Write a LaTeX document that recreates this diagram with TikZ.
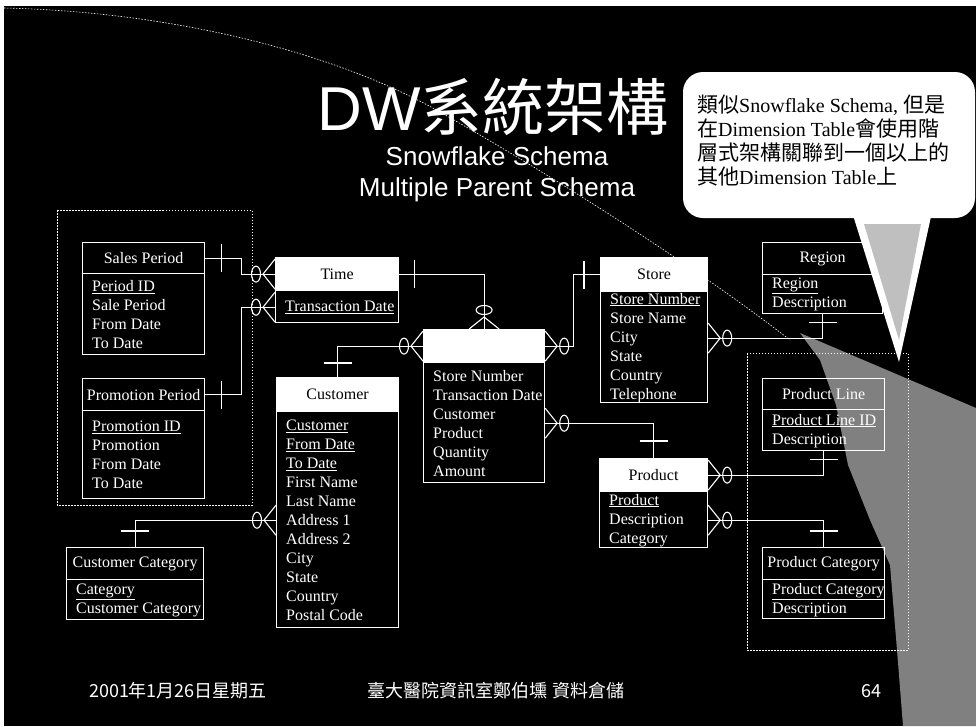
\documentclass[tikz,border=0pt]{standalone}
\usepackage{fontspec}
\setmainfont{Liberation Serif}
\newfontfamily\cjk{Noto Sans CJK TC}
\newfontfamily\arsans{Liberation Sans}
\usetikzlibrary{calc}
\tikzset{
  conn/.style={draw=white, line width=1.1pt},
  entbox/.style={draw=white, line width=1.2pt, inner sep=0pt},
  hw/.style={draw=white, fill=white, text=black, line width=1.2pt, inner sep=0pt, font=\fontsize{16}{19}\selectfont},
  hb/.style={draw=white, text=white, line width=1.2pt, inner sep=0pt, font=\fontsize{16}{19}\selectfont},
  bodytxt/.style={text=white, align=left, inner sep=0pt, font=\fontsize{16}{19}\selectfont},
  grp/.style={draw=white, line width=0.7pt, dash pattern=on 1.5pt off 1.5pt},
  callt/.style={text=black, inner sep=0pt, font=\fontsize{20}{24}\selectfont},
  foot/.style={text=white, inner sep=0pt, font=\cjk\fontsize{18}{20}\selectfont},
}
\newcommand\ckt[1]{{\cjk\fontsize{21}{24}\selectfont #1}}
\newcommand\erbox[9]{%
  \node[entbox, minimum width=#4, minimum height=#6, anchor=north west] (#1) at (#2,#3) {};%
  \node[#9, minimum width=#4, minimum height=#5, anchor=north west] (#1h) at (#2,#3) {#7};%
  \node[bodytxt, anchor=west] (#1b) at ($(#1h.south west)!0.5!(#1.south west)+(10,0)$) {#8};%
}
\newcommand\crowft[2]{%
  \begin{scope}[shift={(#1)}, rotate=#2]
    \draw[conn] (0,15) -- (12,0) -- (0,-15);
    \draw[conn] (19,0) ellipse (4.5 and 8);
  \end{scope}}
\newcommand\onemark[3]{%
  \begin{scope}[shift={(#1)}, rotate=#2]
    \draw[conn] (#3,-14) -- (#3,14);
  \end{scope}}
\begin{document}
\begin{tikzpicture}[x=1pt, y=-1pt]
\useasboundingbox (0,0) rectangle (976,726);
\fill[white] (0,0) rectangle (976,726);
\fill[black] (4,6) rectangle (976,726);
% light beam
\fill[black!50] (800,333) -- (976,408) -- (976,726) -- (903,726) -- (897,650) -- (890,565) -- (870,520) -- (848,465) -- (836,405) -- (820,360) -- cycle;
\draw[white, line width=0.6pt, dash pattern=on 1.5pt off 1.5pt] (4,8) .. controls (180,12) and (340,55) .. (440,112) .. controls (560,180) and (700,270) .. (790,340);
% dotted groups
\draw[grp] (57,210) rectangle (252,505);
\draw[grp] (747,353) rectangle (908,650);
% entities
\erbox{sp}{82}{242}{122}{31}{112}{Sales Period}{\underline{Period ID}\\Sale Period\\From Date\\To Date}{hb}
\erbox{pp}{82}{378}{122}{32}{120}{Promotion Period}{\underline{Promotion ID}\\Promotion\\From Date\\To Date}{hb}
\erbox{tm}{275}{257}{123}{33}{65}{Time}{\underline{Transaction Date}}{hw}
\erbox{fct}{423}{329}{121}{33}{153}{}{Store Number\\Transaction Date\\Customer\\Product\\Quantity\\Amount}{hw}
\erbox{cus}{276}{377}{122}{34}{250}{Customer}{\underline{Customer}\\\underline{From Date}\\\underline{To Date}\\First Name\\Last Name\\Address 1\\Address 2\\City\\State\\Country\\Postal Code}{hw}
\erbox{cc}{66}{547}{137}{32}{72}{Customer Category}{\underline{Category}\\Customer Category}{hb}
\erbox{st}{600}{257}{107}{34}{145}{Store}{\underline{Store Number}\\Store Name\\City\\State\\Country\\Telephone}{hw}
\erbox{rg}{762}{242}{120}{32}{71}{Region}{\underline{Region}\\Description}{hb}
\erbox{pr}{599}{458}{108}{33}{89}{Product}{\underline{Product}\\Description\\Category}{hw}
\erbox{pl}{762}{378}{122}{31}{72}{Product Line}{\underline{Product Line ID}\\Description}{hb}
\erbox{pc}{762}{547}{122}{32}{71}{Product Category}{\underline{Product Category}\\Description}{hb}
% connector end points
\coordinate (c2) at (tm.west |- tmb);
\coordinate (c6) at ($(st.east)+(0,8)$);
\coordinate (c7) at (fct.east |- fctb);
\coordinate (c9) at (pr.east |- prb);
\coordinate (c10) at (cus.west |- cusb);
% connectors
\draw[conn] (sph.east) -- ++(36,0) |- (tmh.west);
\draw[conn] (pph.east) -- ++(36,0) |- (c2);
\draw[conn] (tmh.east) -| (fct.north);
\draw[conn] (fcth.west) -| (cus.north);
\draw[conn] (fcth.east) -- ++(28,0) |- (sth.west);
\draw[conn] (c6) -| (rg.south);
\draw[conn] (c7) -| (pr.north);
\draw[conn] (prh.east) -| (pl.south);
\draw[conn] (c9) -| (pc.north);
\draw[conn] (c10) -| (cc.north);
% crow's feet
\crowft{tmh.west}{180}
\crowft{c2}{180}
\crowft{fct.north}{90}
\crowft{fcth.west}{180}
\crowft{fcth.east}{0}
\crowft{c6}{0}
\crowft{c7}{0}
\crowft{prh.east}{0}
\crowft{c9}{0}
\crowft{c10}{180}
% one marks
\onemark{sph.east}{0}{16}
\onemark{pph.east}{0}{16}
\onemark{tmh.east}{0}{15}
\onemark{cus.north}{90}{14}
\onemark{sth.west}{180}{16}
\onemark{rg.south}{270}{8}
\onemark{pr.north}{90}{17}
\onemark{pl.south}{270}{8}
\onemark{pc.north}{90}{16}
\onemark{cc.north}{90}{16}
% callout
\fill[white, rounded corners=20] (683,72) rectangle (975,218);
\fill[white] (852,212) -- (932,212) -- (899,362) -- cycle;
\fill[black!25] (864,224) -- (921,224) -- (899,340) -- cycle;
\node[callt, anchor=base west] (cl1) at (697,112) {\ckt{類似}Snowflake Schema, \ckt{但是}};
\node[callt, anchor=base west] (cl2) at (697,136) {\ckt{在}Dimension Table\ckt{會使用階}};
\node[callt, anchor=base west] (cl3) at (697,160) {\ckt{層式架構關聯到一個以上的}};
\node[callt, anchor=base west] (cl4) at (697,184) {\ckt{其他}Dimension Table\ckt{上}};
% title
\node[text=white, inner sep=0pt, anchor=base, font=\fontsize{62}{68}\selectfont] (title) at (493,130) {{\arsans DW}{\cjk 系統架構}};
\node[text=white, inner sep=0pt, anchor=base, font=\arsans\fontsize{26}{30}\selectfont] (sub1) at (497,165) {Snowflake Schema};
\node[text=white, inner sep=0pt, anchor=base, font=\arsans\fontsize{26}{30}\selectfont] (sub2) at (497,196) {Multiple Parent Schema};
% footer
\node[foot, anchor=base] (f1) at (178,697) {2001年1月26日星期五};
\node[foot, anchor=base] (f2) at (496,697) {臺大醫院資訊室鄭伯壎 資料倉儲};
\node[foot, anchor=base east] (f3) at (882,697) {64};
\end{tikzpicture}
\end{document}
